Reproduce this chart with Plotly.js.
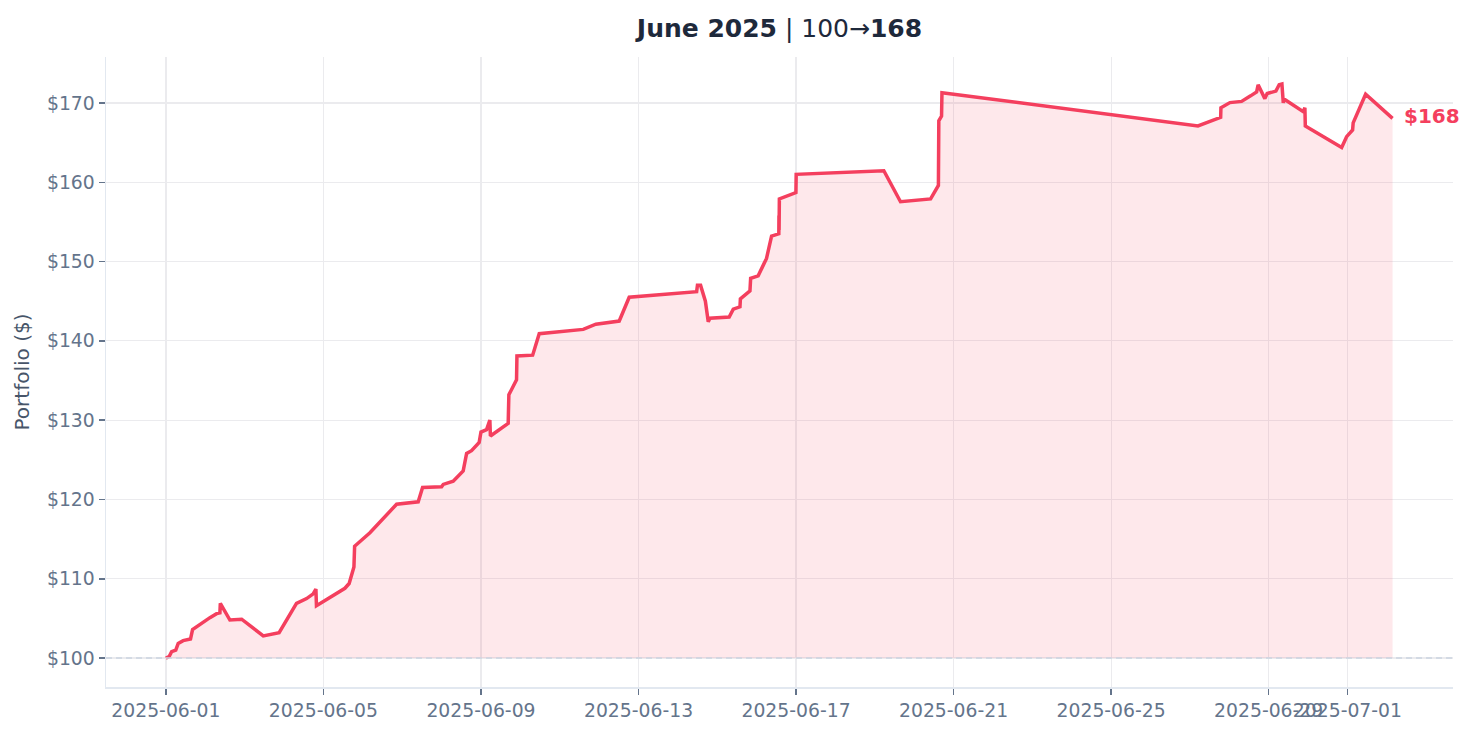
<!DOCTYPE html>
<html>
<head>
<meta charset="utf-8">
<script src="https://cdn.plot.ly/plotly-3.0.1.min.js"></script>
<style>
  html, body { margin: 0; padding: 0; background: #ffffff; }
  #chart { width: 1475px; height: 736px; }
</style>
</head>
<body>
<div id="chart"></div>
<script>
const times = [
  '2025-06-01 00:00','2025-06-01 02:00','2025-06-01 03:30','2025-06-01 06:00','2025-06-01 07:30',
  '2025-06-01 10:30','2025-06-01 15:00','2025-06-01 16:15','2025-06-02 02:50','2025-06-02 06:55',
  '2025-06-02 08:55','2025-06-02 09:10','2025-06-02 15:00','2025-06-02 22:10','2025-06-03 11:20',
  '2025-06-03 21:00','2025-06-04 07:35','2025-06-04 13:45','2025-06-04 17:45','2025-06-04 19:25',
  '2025-06-04 19:45','2025-06-05 13:05','2025-06-05 15:40','2025-06-05 18:35','2025-06-05 19:00',
  '2025-06-06 04:20','2025-06-06 20:35','2025-06-07 09:45','2025-06-07 12:25','2025-06-08 00:00',
  '2025-06-08 01:00','2025-06-08 07:05','2025-06-08 13:10','2025-06-08 15:15','2025-06-08 18:15',
  '2025-06-08 22:55','2025-06-09 00:00','2025-06-09 03:25','2025-06-09 05:25','2025-06-09 05:45',
  '2025-06-09 16:35','2025-06-09 17:00','2025-06-09 21:40','2025-06-09 21:55','2025-06-10 07:30',
  '2025-06-10 11:30','2025-06-11 14:20','2025-06-11 22:00','2025-06-12 12:15','2025-06-12 18:20',
  '2025-06-14 11:25','2025-06-14 11:55','2025-06-14 13:50','2025-06-14 16:45','2025-06-14 18:30',
  '2025-06-14 19:30','2025-06-15 07:15','2025-06-15 09:45','2025-06-15 13:50','2025-06-15 14:05',
  '2025-06-15 19:55','2025-06-15 20:20','2025-06-16 00:55','2025-06-16 06:00','2025-06-16 09:05',
  '2025-06-16 13:30','2025-06-16 13:35','2025-06-16 13:40','2025-06-16 13:50','2025-06-16 23:55',
  '2025-06-17 00:05','2025-06-19 05:30','2025-06-19 15:40','2025-06-20 10:00','2025-06-20 14:45',
  '2025-06-20 15:00','2025-06-20 16:40','2025-06-20 16:55','2025-06-27 04:55','2025-06-27 18:45',
  '2025-06-27 18:55','2025-06-28 00:25','2025-06-28 07:30','2025-06-28 13:00','2025-06-28 16:40',
  '2025-06-28 17:35','2025-06-28 21:40','2025-06-28 23:05','2025-06-29 04:25','2025-06-29 06:25',
  '2025-06-29 08:05','2025-06-29 08:55','2025-06-29 09:20','2025-06-29 21:05','2025-06-29 22:05',
  '2025-06-29 22:20','2025-06-30 20:30','2025-06-30 23:30','2025-07-01 03:10','2025-07-01 03:30',
  '2025-07-01 11:05','2025-07-02 03:30'
];
const portfolio = [
  100.0, 100.2, 100.8, 101.0, 101.85,
  102.2, 102.4, 103.6, 105.1, 105.6,
  105.7, 106.9, 104.8, 104.9, 102.8,
  103.2, 106.9, 107.5, 108.1, 108.7,
  106.6, 108.8, 109.4, 111.5, 114.1,
  115.8, 119.4, 119.7, 121.5, 121.6,
  121.9, 122.3, 123.6, 125.8, 126.15,
  127.2, 128.5, 128.8, 130.0, 128.0,
  129.6, 133.2, 135.1, 138.1, 138.2,
  140.9, 141.45, 142.1, 142.5, 145.5,
  146.2, 147.0, 147.0, 145.0, 142.4,
  142.85, 143.0, 144.0, 144.3, 145.3,
  146.3, 147.9, 148.2, 150.4, 153.2,
  153.5, 155.8, 154.0, 157.9, 158.7,
  161.0, 161.45, 157.55, 157.9, 159.6,
  167.75, 168.35, 171.3, 167.1, 168.2,
  169.4, 170.05, 170.2, 170.9, 171.4,
  172.3, 170.55, 171.2, 171.5, 172.3,
  172.4, 170.0, 170.5, 168.9, 169.4,
  167.1, 164.4, 165.75, 166.6, 167.5,
  171.1, 168.06
];
const baseline = 100;
const tickDates = ['2025-06-01','2025-06-05','2025-06-09','2025-06-13','2025-06-17','2025-06-21','2025-06-25','2025-06-29','2025-07-01'];
const tickLabels = ['2025-06-01','2025-06-05','2025-06-09','2025-06-13','2025-06-17','2025-06-21','2025-06-25','2025-06-29','2025-07-01'];
const yTicks = [100, 110, 120, 130, 140, 150, 160, 170];
const yTickLabels = ['$100','$110','$120','$130','$140','$150','$160','$170'];

const startVal = portfolio[0];
const endVal = portfolio[portfolio.length - 1];
const lineColor = '#f43f5e';

const traces = [
  {
    x: [times[0], times[times.length - 1]],
    y: [baseline, baseline],
    mode: 'lines',
    line: { width: 0, color: 'rgba(0,0,0,0)' },
    hoverinfo: 'skip',
    showlegend: false
  },
  {
    x: times,
    y: portfolio,
    mode: 'lines',
    line: { color: lineColor, width: 3.5 },
    fill: 'tonexty',
    fillcolor: 'rgba(244,63,94,0.12)',
    showlegend: false
  }
];

const font = "'DejaVu Sans', sans-serif";

const layout = {
  width: 1475,
  height: 736,
  margin: { l: 106, r: 22, t: 57, b: 49 },
  paper_bgcolor: '#ffffff',
  plot_bgcolor: '#ffffff',
  font: { family: font, color: '#64748b' },
  title: {
    text: '<b>June 2025</b> | ' + startVal.toFixed(0) + '→<b>' + endVal.toFixed(0) + '</b>',
    font: { family: font, size: 25, color: '#1e293b' },
    x: 0.5, xref: 'paper', xanchor: 'center',
    y: 0.962, yref: 'container', yanchor: 'middle'
  },
  xaxis: {
    type: 'date',
    range: ['2025-05-30 11:30', '2025-07-03 16:20'],
    tickmode: 'array',
    tickvals: tickDates,
    ticktext: tickLabels,
    tickangle: 0,
    tickfont: { family: font, size: 18.8, color: '#64748b' },
    ticks: 'outside',
    ticklen: 6,
    tickwidth: 1.5,
    tickcolor: '#64748b',
    showgrid: true,
    gridcolor: '#ebebee',
    gridwidth: 1.2,
    showline: true,
    linecolor: '#e2e8f0',
    linewidth: 1.5,
    zeroline: false
  },
  yaxis: {
    range: [96.35, 175.8],
    tickmode: 'array',
    tickvals: yTicks,
    ticktext: yTickLabels,
    tickfont: { family: font, size: 18.8, color: '#64748b' },
    ticks: 'outside',
    ticklen: 6,
    tickwidth: 1.5,
    tickcolor: '#64748b',
    showgrid: true,
    gridcolor: '#ebebee',
    gridwidth: 1.2,
    showline: true,
    linecolor: '#e2e8f0',
    linewidth: 1.5,
    zeroline: false,
    title: { text: 'Portfolio ($)', font: { family: font, size: 20, color: '#475569' }, standoff: 12 }
  },
  shapes: [
    {
      type: 'line', xref: 'paper', x0: 0, x1: 1, yref: 'y', y0: baseline, y1: baseline,
      line: { color: '#cbd5e1', width: 1.5, dash: '6px,4px' }, layer: 'above'
    }
  ],
  annotations: [
    {
      x: times[times.length - 1], y: endVal, xref: 'x', yref: 'y',
      text: '<b>$' + endVal.toFixed(0) + '</b>',
      showarrow: false, xanchor: 'left', yanchor: 'middle', xshift: 9, yshift: 2,
      font: { family: font, size: 20, color: lineColor }
    }
  ]
};

Plotly.newPlot('chart', traces, layout, { displayModeBar: false, staticPlot: true });
</script>
</body>
</html>
